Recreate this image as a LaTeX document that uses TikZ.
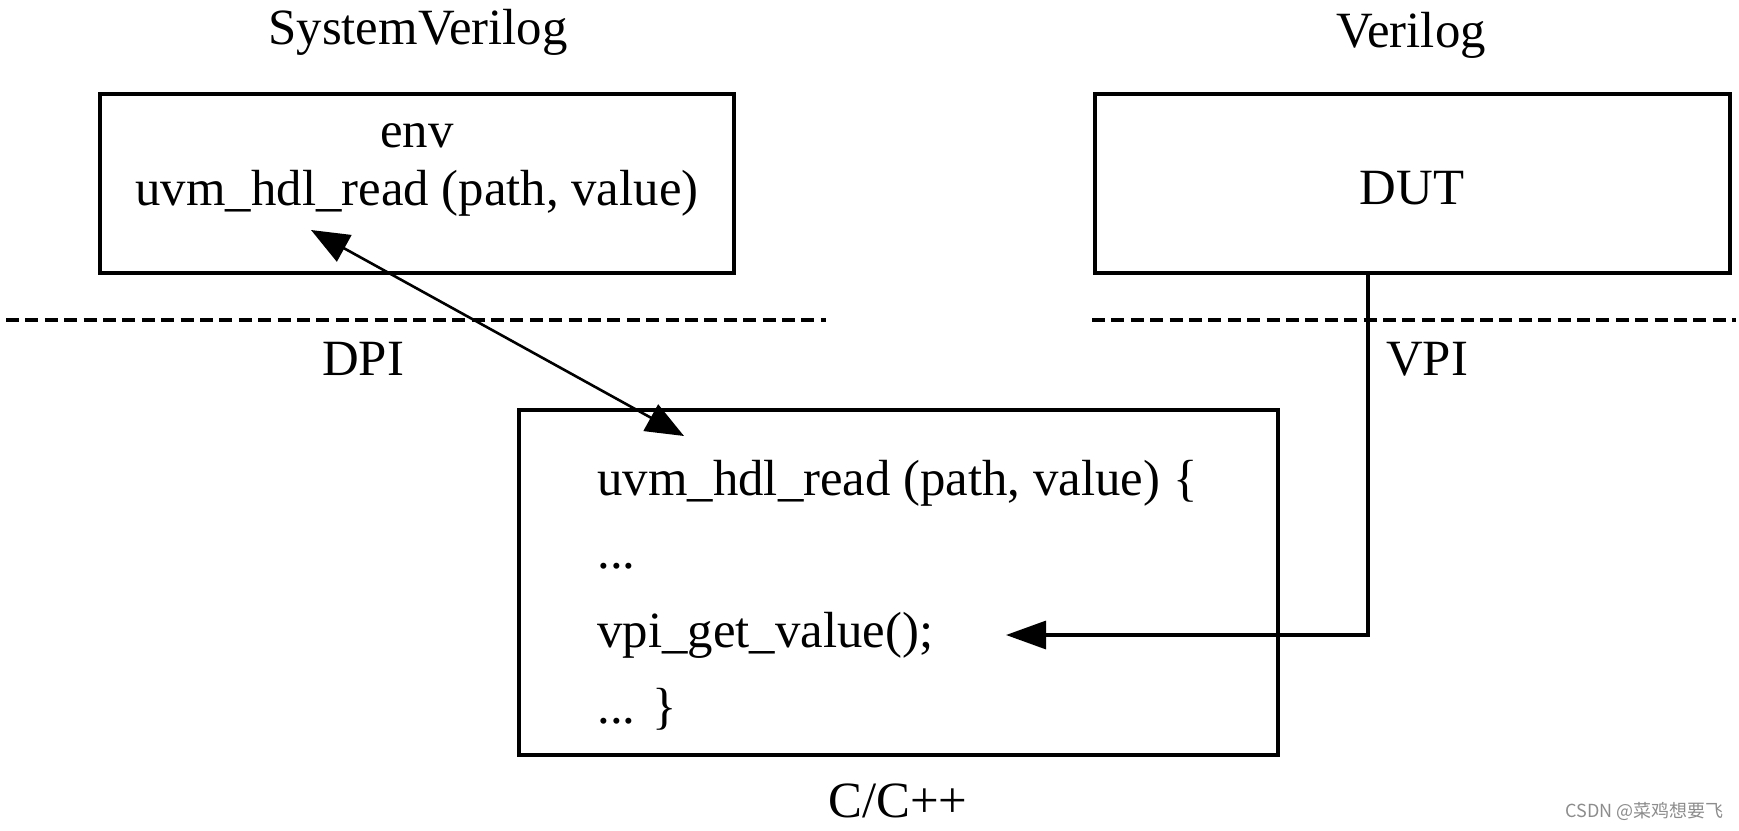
\documentclass[tikz,border=0pt]{standalone}
\usepackage{fontspec}
\setmainfont{Liberation Serif}
\newfontfamily\cjkfont{Noto Sans CJK SC}
\usetikzlibrary{arrows.meta}
\begin{document}
\begin{tikzpicture}[x=0.5pt,y=-0.5pt,
  txt/.style={font=\fontsize{25.4pt}{30pt}\selectfont, inner sep=0pt},
  boxed/.style={draw, line width=2pt, inner sep=0pt},
  sepline/.style={line width=2pt, dash pattern=on 6.5pt off 3.2pt},
  dpiconn/.style={line width=1.3pt, {Triangle[length=19pt,width=15pt]}-{Triangle[length=19pt,width=15pt]}},
  vpiconn/.style={line width=1.6pt, -{Triangle[length=20pt,width=14pt]}}
]
\useasboundingbox (0,0) rectangle (1739,830);

% titles
\node[txt, anchor=base] (svtitle) at (418,44) {SystemVerilog};
\node[txt, anchor=base] (vtitle) at (1411,47) {Verilog};
\node[txt, anchor=base] (ctitle) at (898,817) {C/C++};
\node[txt, anchor=base] (dpi) at (363,375) {DPI};
\node[txt, anchor=base] (vpi) at (1427,375) {VPI};

% boxes
\node[boxed, minimum width=317pt, minimum height=89.5pt] (sv) at (417,183.5) {};
\node[boxed, minimum width=317.5pt, minimum height=89.5pt] (dut) at (1412.5,183.5) {};
\node[boxed, minimum width=379.5pt, minimum height=172.5pt] (cbox) at (898.5,582.5) {};

% box texts
\node[txt, anchor=base] (env) at (417,147) {env};
\node[txt, anchor=base] (svcall) at (417,205) {uvm\_hdl\_read (path, value)};
\node[txt, anchor=base] (duttext) at (1412,204) {DUT};
\node[txt, anchor=base west] (l1) at (597,495) {uvm\_hdl\_read (path, value) \{};
\node[txt, anchor=base west] (l2) at (597,568) {...};
\node[txt, anchor=base west] (l3) at (597,647) {vpi\_get\_value();};
\node[txt, anchor=base west] (l4) at (597,723) {... \}};

% separators
\coordinate (dl1) at (6,320);
\coordinate (dl2) at (826,320);
\coordinate (dr1) at (1092,320);
\coordinate (dr2) at (1736,320);
\draw[sepline] (dl1) -- (dl2);
\draw[sepline] (dr1) -- (dr2);

% DPI connector
\coordinate (dpiA) at (311,230);
\coordinate (dpiB) at (684,436);
\draw[dpiconn] (dpiA) -- (dpiB);

% VPI connector
\coordinate (vpiturn) at (1368,635);
\coordinate (vpitip) at (1006,635);
\draw[vpiconn] (dut.south -| vpiturn) -- (vpiturn) -- (vpitip);

% watermark
\node[anchor=base east, inner sep=0pt, font=\cjkfont\fontsize{9pt}{11pt}\selectfont, text=black!45] (wm) at (1724,817) {CSDN @菜鸡想要飞};
\end{tikzpicture}
\end{document}
